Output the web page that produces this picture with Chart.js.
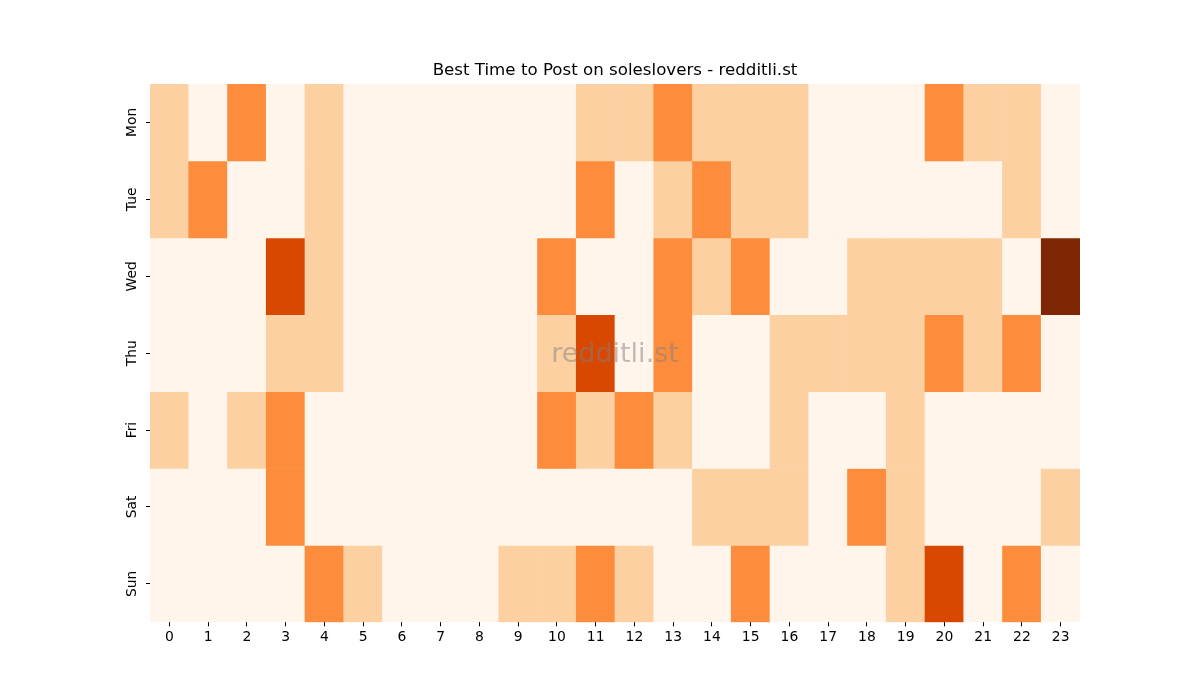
<!DOCTYPE html>
<html>
<head>
<meta charset="utf-8">
<script src="https://cdn.jsdelivr.net/npm/chart.js@4"></script>
<style>
  html, body { margin: 0; padding: 0; background: #fff; }
  #wrap { width: 1200px; height: 700px; }
</style>
</head>
<body>
<div id="wrap"><canvas id="heat"></canvas></div>
<script>
// hours 0..23 on the x axis, days on the y axis
const hours = ['0','1','2','3','4','5','6','7','8','9','10','11','12','13','14','15','16','17','18','19','20','21','22','23'];
const days = ['Mon', 'Tue', 'Wed', 'Thu', 'Fri', 'Sat', 'Sun'];

// activity level per hour (0 = none .. 4 = highest)
const mon = [1,0,2,0,1,0,0,0,0,0,0,1,1,2,1,1,1,0,0,0,2,1,1,0];
const tue = [1,2,0,0,1,0,0,0,0,0,0,2,0,1,2,1,1,0,0,0,0,0,1,0];
const wed = [0,0,0,3,1,0,0,0,0,0,2,0,0,2,1,2,0,0,1,1,1,1,0,4];
const thu = [0,0,0,1,1,0,0,0,0,0,1,3,0,2,0,0,1,1,1,1,2,1,2,0];
const fri = [1,0,1,2,0,0,0,0,0,0,2,1,2,1,0,0,1,0,0,1,0,0,0,0];
const sat = [0,0,0,2,0,0,0,0,0,0,0,0,0,0,1,1,1,0,2,1,0,0,0,1];
const sun = [0,0,0,0,2,1,0,0,0,1,1,2,1,0,0,2,0,0,0,1,3,0,2,0];

const levels = [mon, tue, wed, thu, fri, sat, sun];
const maxLevel = 4;

// matplotlib "Oranges" at 0, .25, .5, .75, 1
const oranges = ['#fff5eb', '#fdd0a2', '#fd8d3c', '#d94801', '#7f2704'];

const datasets = levels.map((row, d) => ({
    label: days[d],
    data: row.map(() => [d, d + 1]),
    backgroundColor: row.map(v => oranges[Math.round(v / maxLevel * 4)]),
    borderWidth: 0,
    barPercentage: 1,
    categoryPercentage: 1,
    grouped: false,
    yAxisID: 'y'
}));

const watermark = {
    id: 'watermark',
    afterDatasetsDraw(chart) {
        const a = chart.chartArea;
        const c = chart.ctx;
        c.save();
        c.font = '27px "DejaVu Sans"';
        c.fillStyle = 'rgba(128,128,128,0.5)';
        c.textAlign = 'center';
        c.textBaseline = 'middle';
        c.fillText('redditli.st', (a.left + a.right) / 2, (a.top + a.bottom) / 2 + 2);
        c.restore();
    }
};

Chart.defaults.font.family = '"DejaVu Sans", sans-serif';
Chart.defaults.color = '#000';

const dayAxis = (pos, col) => ({
    type: 'category',
    labels: days,
    position: pos,
    offset: true,
    border: { display: false },
    grid: { display: true, drawOnChartArea: false, drawTicks: true, tickLength: 4, color: col, offset: false },
    ticks: { font: { size: 13.9 }, padding: -2, minRotation: 90, maxRotation: 90, crossAlign: 'center', color: col },
    afterFit(scale) { scale.width = 30; }
});

new Chart(document.getElementById('heat').getContext('2d'), {
    type: 'bar',
    data: { labels: hours, datasets: datasets },
    plugins: [watermark],
    options: {
        responsive: true,
        maintainAspectRatio: false,
        animation: false,
        layout: { padding: { left: 120, right: 90, top: 49, bottom: 51 } },
        plugins: {
            legend: { display: false },
            tooltip: { enabled: false },
            title: {
                display: true,
                text: 'Best Time to Post on soleslovers - redditli.st',
                color: '#000',
                font: { size: 16.67, weight: 'normal' },
                padding: { top: 12, bottom: 3 }
            }
        },
        scales: {
            x: {
                offset: true,
                border: { display: false },
                grid: { display: true, drawOnChartArea: false, drawTicks: true, tickLength: 4, color: '#000', offset: false },
                ticks: { font: { size: 13.9 }, padding: 3, maxRotation: 0, autoSkip: false }
            },
            y: {
                type: 'linear',
                min: 0,
                max: 7,
                reverse: true,
                display: false
            },
            yDays: dayAxis('left', '#000'),
            // invisible twin so the title centres over the plot like the original
            yPad: dayAxis('right', 'rgba(0,0,0,0)')
        }
    }
});
</script>
</body>
</html>
